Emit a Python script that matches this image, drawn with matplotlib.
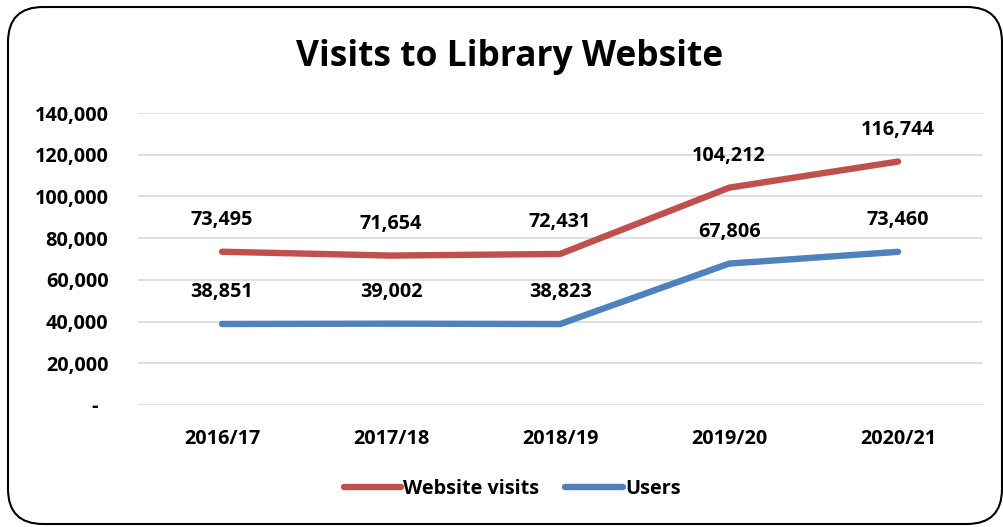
import matplotlib.pyplot as plt
from matplotlib.patches import FancyBboxPatch
from matplotlib.ticker import FuncFormatter

years = ['2016/17', '2017/18', '2018/19', '2019/20', '2020/21']
website_visits = [73495, 71654, 72431, 104212, 116744]
users = [38851, 39002, 38823, 67806, 73460]

plt.rcParams['font.family'] = ['Open Sans', 'DejaVu Sans']

red = '#C0504D'
blue = '#4F81BD'
fs = 14.3

fig = plt.figure(figsize=(10.04, 5.27), dpi=100)
ax = fig.add_axes([0.137, 0.2315, 0.8417, 0.554])

x = range(len(years))
ax.plot(x, website_visits, color=red, lw=4.6, solid_capstyle='round',
        solid_joinstyle='round', label='Website visits')
ax.plot(x, users, color=blue, lw=4.6, solid_capstyle='round',
        solid_joinstyle='round', label='Users')

for xi, v in zip(x, website_visits):
    ax.annotate(f'{v:,}', (xi, v), xytext=(0, 23), textcoords='offset points',
                ha='center', va='center', fontsize=fs, fontweight='bold')
for xi, v in zip(x, users):
    ax.annotate(f'{v:,}', (xi, v), xytext=(0, 23), textcoords='offset points',
                ha='center', va='center', fontsize=fs, fontweight='bold')

ax.set_xlim(-0.5, len(years) - 0.5)
ax.set_ylim(0, 140000)
ax.set_yticks(range(0, 140001, 20000))
ax.yaxis.set_major_formatter(FuncFormatter(lambda v, p: '-  ' if v == 0 else f'{int(v):,}'))
ax.set_xticks(list(x))
ax.set_xticklabels(years)
ax.tick_params(axis='both', length=0, labelsize=fs)
ax.tick_params(axis='y', pad=21)
ax.tick_params(axis='x', pad=17)
for lbl in ax.get_xticklabels() + ax.get_yticklabels():
    lbl.set_fontweight('bold')

ax.grid(axis='y', color='#D9D9D9', lw=1.2)
ax.set_axisbelow(True)
for s in ax.spines.values():
    s.set_visible(False)

fig.text(0.508, 1 - 57 / 527, 'Visits to Library Website', ha='center', va='center',
         fontsize=25.5, fontweight='bold')

leg = fig.legend(loc='center', bbox_to_anchor=(0.51, 1 - 489 / 527), ncol=2,
                 frameon=False, fontsize=fs, handlelength=2.9, handletextpad=0.1,
                 columnspacing=1.3)
for t in leg.get_texts():
    t.set_fontweight('bold')

border = FancyBboxPatch((8 / 1004, 3 / 527), 994 / 1004, 517 / 527,
                        boxstyle='round,pad=0,rounding_size=0.035',
                        transform=fig.transFigure, fill=False, ec='black', lw=1.5,
                        mutation_aspect=1004 / 527)
fig.patches.append(border)

fig.savefig('out.png', dpi=100)
